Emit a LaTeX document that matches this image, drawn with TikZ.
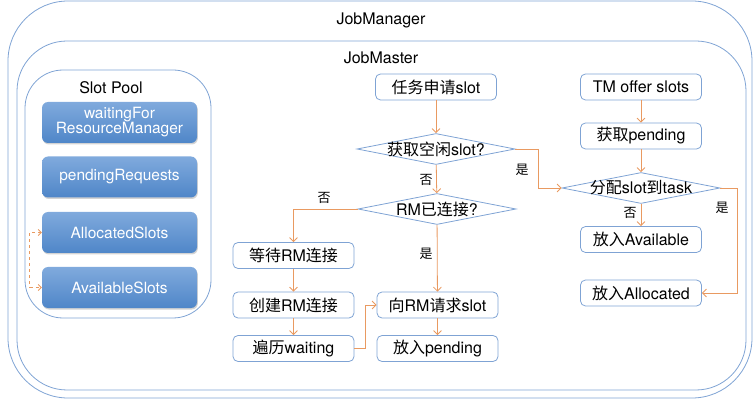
\documentclass[tikz,border=0pt]{standalone}
\usepackage{fontspec}
\setmainfont{TeX Gyre Heros}
\newfontfamily\cjk{Noto Sans CJK SC}
\usepackage{xcolor}
\usepackage{tikz}
\usetikzlibrary{shapes.geometric, arrows.meta, positioning, shadows}
\definecolor{lineblue}{HTML}{7FA3D4}
\definecolor{slottop}{HTML}{80AADD}
\definecolor{slotbot}{HTML}{4F86C8}
\definecolor{flowor}{HTML}{E99A61}

\begin{document}
\begin{tikzpicture}[
  x=1pt, y=-1pt,
  frame/.style={draw=lineblue, line width=0.8pt},
  proc/.style={draw=lineblue, line width=0.8pt, rounded corners=5pt, minimum width=121pt, minimum height=26pt, inner sep=0pt, font=\fontsize{16}{18}\selectfont},
  decision/.style={diamond, draw=lineblue, line width=0.8pt, minimum width=158pt, minimum height=31pt, inner sep=0pt, font=\fontsize{16}{18}\selectfont},
  slot/.style={rounded corners=6pt, top color=slottop, bottom color=slotbot, text=white, minimum width=155pt, minimum height=41pt, align=center, font=\fontsize{15.5}{17}\selectfont, drop shadow={shadow xshift=0.8pt, shadow yshift=-1.5pt, opacity=0.35}},
  title/.style={font=\fontsize{16}{18}\selectfont},
  flow/.style={draw=flowor, line width=0.8pt, -{Straight Barb[length=4pt, width=8pt]}},
  tag/.style={font=\fontsize{13}{15}\selectfont\cjk},
]
\useasboundingbox (0,0) rectangle (756,401);

\draw[frame, rounded corners=60pt] (8,1) rectangle (752,398);
\draw[frame, rounded corners=50pt] (17,41) rectangle (746,390);
\draw[frame, rounded corners=38pt] (25,70) rectangle (211,318);
\node[title] (jm) at (381,20) {JobManager};
\node[title] (jms) at (381,58) {JobMaster};
\node[title] (pool) at (111,88) {Slot Pool};

\node[slot] (wfrm) at (119.5,122.5) {waitingFor\\[-2pt]ResourceManager};
\node[slot] (preq) at (119.5,177) {pendingRequests};
\node[slot] (allocs) at (119.5,232.5) {AllocatedSlots};
\node[slot] (avails) at (119.5,287.5) {AvailableSlots};
\draw[flowor, line width=0.8pt, dashed, {Straight Barb[length=3pt, width=6pt]}-{Straight Barb[length=3pt, width=6pt]}] (allocs.west) -- ++(-12,0) |- (avails.west);

\node[proc] (ask) at (436,87) {{\cjk 任务申请}slot};
\node[decision] (free) at (436,149) {\makebox[0pt]{{\cjk 获取空闲}slot?}};
\node[decision] (rmok) at (437,209) {\makebox[0pt]{RM{\cjk 已连接}?}};
\node[proc] (wait) at (293.5,255.5) {{\cjk 等待}RM{\cjk 连接}};
\node[proc] (create) at (293.5,305) {{\cjk 创建}RM{\cjk 连接}};
\node[proc] (walk) at (293.5,348.5) {{\cjk 遍历}waiting};
\node[proc] (req) at (437.5,305) {{\cjk 向}RM{\cjk 请求}slot};
\node[proc] (pend) at (437.5,348.5) {{\cjk 放入}pending};

\node[proc] (offer) at (641,87) {TM offer slots};
\node[proc] (getp) at (641,136) {{\cjk 获取}pending};
\node[decision] (assign) at (641,188) {\makebox[0pt]{{\cjk 分配}slot{\cjk 到}task}};
\node[proc] (avail) at (641,239.5) {{\cjk 放入}Available};
\node[proc] (alloc) at (641,293) {{\cjk 放入}Allocated};

\draw[flow] (ask) -- (free);
\draw[flow] (free) -- (rmok);
\node[tag] (no1) at (426,180) {否};
\draw[flow] (free.east) -- ++(23,0) |- (assign.west);
\node[tag] (yes1) at (522,170) {是};
\draw[flow] (rmok.west) -| (wait.north);
\node[tag] (no2) at (324,198) {否};
\draw[flow] (rmok) -- (req);
\node[tag] (yes2) at (426,254) {是};
\draw[flow] (wait) -- (create);
\draw[flow] (create) -- (walk);
\draw[flow] (walk.east) -- ++(11,0) |- (req.west);
\draw[flow] (req) -- (pend);

\draw[flow] (offer) -- (getp);
\draw[flow] (getp) -- (assign);
\draw[flow] (assign) -- (avail);
\node[tag] (no3) at (630,213) {否};
\draw[flow] (assign.east) -- ++(17,0) |- (alloc.east);
\node[tag] (yes3) at (722,208) {是};
\end{tikzpicture}
\end{document}
